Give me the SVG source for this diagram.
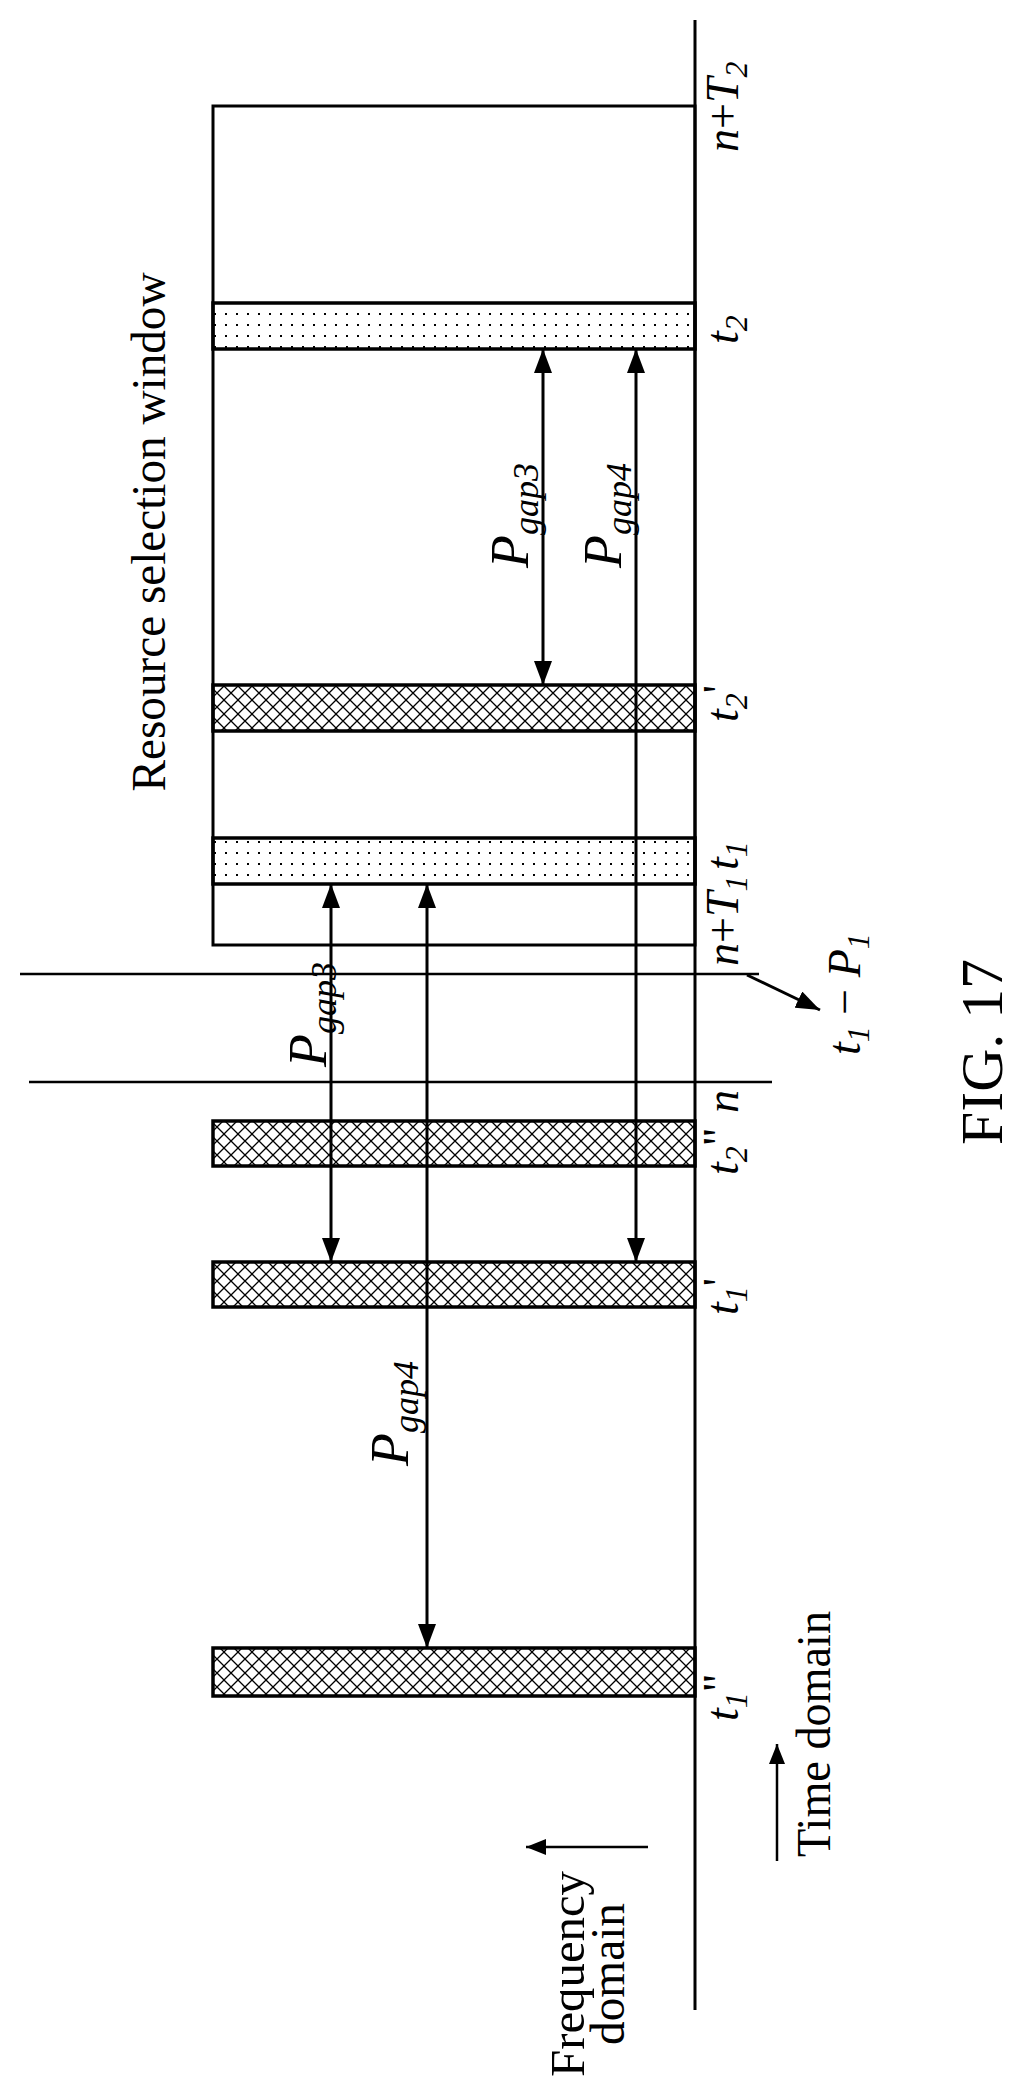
<svg xmlns="http://www.w3.org/2000/svg" width="1012" height="2082" viewBox="0 0 1012 2082">
<defs>
<pattern id="hatch" width="14" height="14" patternUnits="userSpaceOnUse">
<path d="M0,0 L14,14 M14,0 L0,14" stroke="#000" stroke-width="1.3"/>
</pattern>
<pattern id="dots" width="11" height="11" patternUnits="userSpaceOnUse">
<rect x="5" y="5" width="2" height="2" fill="#000"/>
</pattern>
<marker id="ah" viewBox="0 0 20 16" refX="20" refY="8" markerWidth="20" markerHeight="16" markerUnits="userSpaceOnUse" orient="auto-start-reverse">
<path d="M0,0 L20,8 L0,16 Z" fill="#000"/>
</marker>
<marker id="ahb" viewBox="0 0 24 18" refX="24" refY="9" markerWidth="24" markerHeight="18" markerUnits="userSpaceOnUse" orient="auto-start-reverse">
<path d="M0,0 L24,9 L0,18 Z" fill="#000"/>
</marker>
</defs>
<style>
.ln{stroke:#000;stroke-width:3;fill:none}
.thin{stroke:#000;stroke-width:2.5;fill:none}
.bh{fill:url(#hatch);stroke:#000;stroke-width:3.5}
.bd{fill:url(#dots);stroke:#000;stroke-width:3.5}
.t{font-family:"Liberation Serif","Times New Roman",serif;fill:#000}
.i{font-family:"Liberation Serif","Times New Roman",serif;font-style:italic;fill:#000;font-size:46px}
.s{font-size:32px}
.p{font-size:54px}
.ps{font-size:36px}
</style>
<g id="axes">
<line class="ln" x1="695" y1="20" x2="695" y2="2010"/>
<line class="thin" x1="20" y1="974" x2="759" y2="974"/>
<line class="thin" x1="29" y1="1082" x2="772" y2="1082"/>
</g>
<g id="window"><rect class="ln" x="213" y="106" width="482" height="839"/></g>
<g id="bars">
<rect class="bd" x="213" y="303" width="482" height="46"/>
<rect class="bh" x="213" y="685" width="482" height="46"/>
<rect class="bd" x="213" y="838" width="482" height="46"/>
<rect class="bh" x="213" y="1121" width="482" height="45"/>
<rect class="bh" x="213" y="1262" width="482" height="45"/>
<rect class="bh" x="213" y="1648" width="482" height="48"/>
</g>
<g id="connectors">
<line class="ln" x1="331" y1="884" x2="331" y2="1262" marker-start="url(#ahb)" marker-end="url(#ahb)"/>
<line class="ln" x1="427" y1="884" x2="427" y2="1648" marker-start="url(#ahb)" marker-end="url(#ahb)"/>
<line class="ln" x1="543" y1="349" x2="543" y2="685" marker-start="url(#ahb)" marker-end="url(#ahb)"/>
<line class="ln" x1="636" y1="349" x2="636" y2="1262" marker-start="url(#ahb)" marker-end="url(#ahb)"/>
<line class="thin" x1="648" y1="1847" x2="526" y2="1847" marker-end="url(#ah)"/>
<line class="thin" x1="777" y1="1861" x2="777" y2="1744" marker-end="url(#ah)"/>
<line class="ln" x1="747" y1="975" x2="820" y2="1010" marker-end="url(#ahb)"/>
</g>
<g id="labels">
<text class="t" font-size="48" text-anchor="middle" textLength="519" lengthAdjust="spacingAndGlyphs" transform="translate(165,532) rotate(-90)">Resource selection window</text>
<text class="i" transform="translate(738,152) rotate(-90)">n<tspan font-style="normal">+</tspan>T<tspan class="s" dy="9">2</tspan></text>
<text class="i" transform="translate(738,344) rotate(-90)">t<tspan class="s" dy="9">2</tspan></text>
<text class="i" transform="translate(738,722) rotate(-90)">t<tspan class="s" dy="9">2</tspan><tspan dy="-12" font-style="normal">'</tspan></text>
<text class="i" transform="translate(738,966) rotate(-90)">n<tspan font-style="normal">+</tspan>T<tspan class="s" dy="9">1</tspan></text>
<text class="i" transform="translate(738,870) rotate(-90)">t<tspan class="s" dy="9">1</tspan></text>
<text class="i" transform="translate(738,1113) rotate(-90)">n</text>
<text class="i" transform="translate(738,1175) rotate(-90)">t<tspan class="s" dy="9">2</tspan><tspan dy="-12" font-style="normal">"</tspan></text>
<text class="i" transform="translate(738,1315) rotate(-90)">t<tspan class="s" dy="9">1</tspan><tspan dy="-12" font-style="normal">'</tspan></text>
<text class="i" transform="translate(738,1721) rotate(-90)">t<tspan class="s" dy="9">1</tspan><tspan dy="-12" font-style="normal">"</tspan></text>
<text class="i" transform="translate(860,1055) rotate(-90)">t<tspan class="s" dy="9">1</tspan><tspan dy="-9" font-style="normal"> − </tspan>P<tspan class="s" dy="9">1</tspan></text>
<text class="i p" transform="translate(528,568) rotate(-90)">P<tspan class="ps" dy="10">gap3</tspan></text>
<text class="i p" transform="translate(621,568) rotate(-90)">P<tspan class="ps" dy="10">gap4</tspan></text>
<text class="i p" transform="translate(326,1067) rotate(-90)">P<tspan class="ps" dy="10">gap3</tspan></text>
<text class="i p" transform="translate(408,1466) rotate(-90)">P<tspan class="ps" dy="10">gap4</tspan></text>
<text class="t" font-size="48" text-anchor="middle" textLength="206" lengthAdjust="spacingAndGlyphs" transform="translate(584,1974) rotate(-90)">Frequency</text>
<text class="t" font-size="48" text-anchor="middle" textLength="142" lengthAdjust="spacingAndGlyphs" transform="translate(624,1974) rotate(-90)">domain</text>
<text class="t" font-size="48" textLength="246" lengthAdjust="spacingAndGlyphs" transform="translate(830,1857) rotate(-90)">Time domain</text>
<text class="t" font-size="60" text-anchor="middle" textLength="186" lengthAdjust="spacingAndGlyphs" transform="translate(1002,1052) rotate(-90)">FIG. 17</text>
</g>
</svg>
